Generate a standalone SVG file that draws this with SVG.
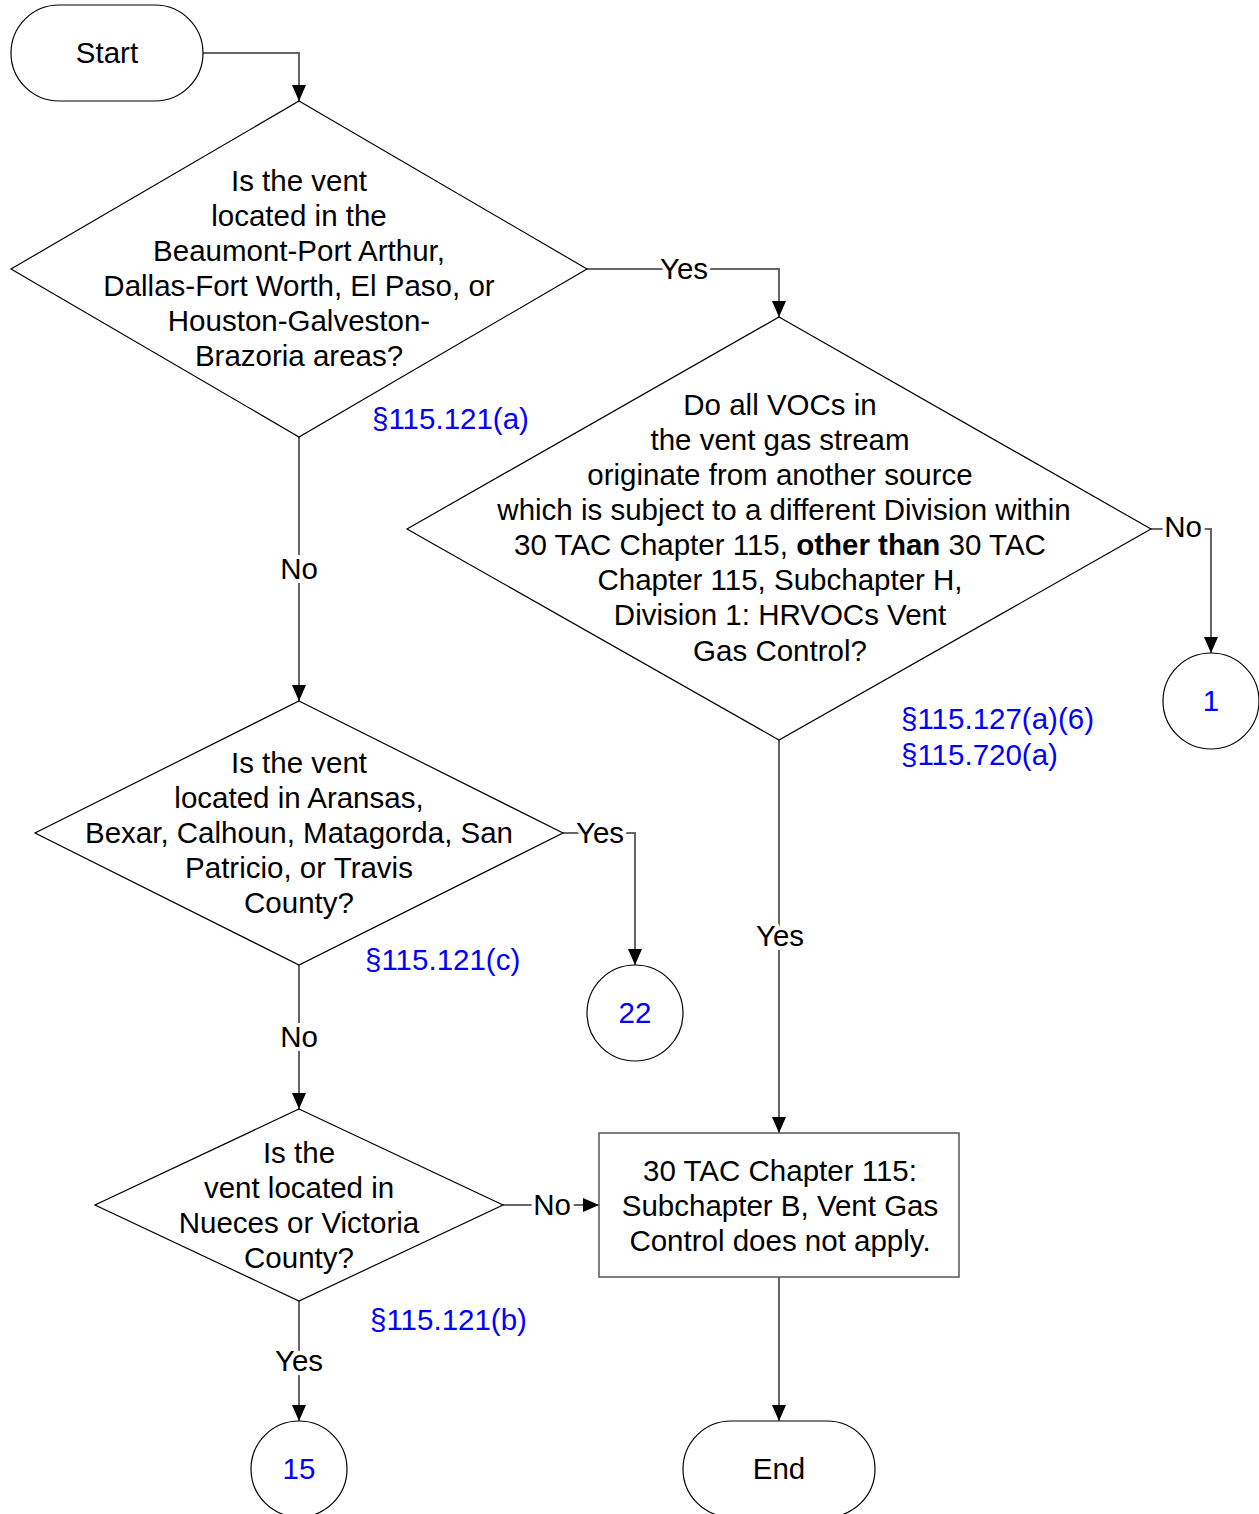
<svg xmlns="http://www.w3.org/2000/svg" width="1259" height="1514" viewBox="0 0 1259 1514">
<style>
.node{fill:#fff;stroke:#000;stroke-width:1.2}
.box{fill:#fff;stroke:#555;stroke-width:1.5}
.conn{fill:none;stroke:#666;stroke-width:2}
text{font-family:"Liberation Sans",Arial,sans-serif;font-size:29.5px;fill:#000;text-anchor:middle}
.ref{fill:#0000ff;text-anchor:start}
.num{fill:#0000ff}
.lbl{paint-order:stroke;stroke:#fff;stroke-width:8px;stroke-linejoin:round}
</style>
<defs>
<marker id="arr" markerUnits="userSpaceOnUse" markerWidth="18" markerHeight="14" refX="16" refY="7" orient="auto" viewBox="0 0 18 14">
<path d="M0,0 L16,7 L0,14 Z" fill="#000"/>
</marker>
</defs>
<rect width="1259" height="1514" fill="#fff"/>
<g id="connectors">
<path class="conn" d="M203,53 H299 V101" marker-end="url(#arr)"/>
<path class="conn" d="M587,269 H779 V317" marker-end="url(#arr)"/>
<path class="conn" d="M1151,529 H1211 V653" marker-end="url(#arr)"/>
<path class="conn" d="M299,437 V701" marker-end="url(#arr)"/>
<path class="conn" d="M563,833 H635 V965" marker-end="url(#arr)"/>
<path class="conn" d="M299,965 V1109" marker-end="url(#arr)"/>
<path class="conn" d="M503,1205 H599" marker-end="url(#arr)"/>
<path class="conn" d="M779,740 V1133" marker-end="url(#arr)"/>
<path class="conn" d="M779,1277 V1421" marker-end="url(#arr)"/>
<path class="conn" d="M299,1301 V1421" marker-end="url(#arr)"/>
<text class="lbl" x="684" y="279">Yes</text>
<text class="lbl" x="1183" y="537">No</text>
<text class="lbl" x="299" y="579">No</text>
<text class="lbl" x="600" y="843">Yes</text>
<text class="lbl" x="299" y="1047">No</text>
<text class="lbl" x="780" y="946">Yes</text>
<text class="lbl" x="552" y="1215">No</text>
<text class="lbl" x="299" y="1371">Yes</text>
</g>
<g id="start">
<rect class="node" x="11" y="5" width="192" height="96" rx="48" ry="48"/>
<text x="107" y="63">Start</text>
</g>
<g id="q1">
<polygon class="node" points="299,101 587,269 299,437 11,269"/>
<text x="299" y="191">Is the vent</text>
<text x="299" y="226">located in the</text>
<text x="299" y="261">Beaumont-Port Arthur,</text>
<text x="299" y="296">Dallas-Fort Worth, El Paso, or</text>
<text x="299" y="331">Houston-Galveston-</text>
<text x="299" y="366">Brazoria areas?</text>
<text class="ref" x="372" y="429">§115.121(a)</text>
</g>
<g id="q2">
<polygon class="node" points="779,317 1151,529 779,740 407,529"/>
<text x="780" y="415">Do all VOCs in</text>
<text x="780" y="450">the vent gas stream</text>
<text x="780" y="485">originate from another source</text>
<text x="784" y="520">which is subject to a different Division within</text>
<text x="780" y="555">30 TAC Chapter 115, <tspan font-weight="bold">other than</tspan> 30 TAC</text>
<text x="780" y="590">Chapter 115, Subchapter H,</text>
<text x="780" y="625">Division 1: HRVOCs Vent</text>
<text x="780" y="661">Gas Control?</text>
<text class="ref" x="901" y="729">§115.127(a)(6)</text>
<text class="ref" x="901" y="765">§115.720(a)</text>
</g>
<g id="c1">
<circle class="node" cx="1211" cy="701" r="48"/>
<text class="num" x="1211" y="711">1</text>
</g>
<g id="q3">
<polygon class="node" points="299,701 563,833 299,965 35,833"/>
<text x="299" y="773">Is the vent</text>
<text x="299" y="808">located in Aransas,</text>
<text x="299" y="843">Bexar, Calhoun, Matagorda, San</text>
<text x="299" y="878">Patricio, or Travis</text>
<text x="299" y="913">County?</text>
<text class="ref" x="365" y="970">§115.121(c)</text>
</g>
<g id="c22">
<circle class="node" cx="635" cy="1013" r="48"/>
<text class="num" x="635" y="1023">22</text>
</g>
<g id="q4">
<polygon class="node" points="299,1109 503,1205 299,1301 95,1205"/>
<text x="299" y="1163">Is the</text>
<text x="299" y="1198">vent located in</text>
<text x="299" y="1233">Nueces or Victoria</text>
<text x="299" y="1268">County?</text>
<text class="ref" x="370" y="1330">§115.121(b)</text>
</g>
<g id="result">
<rect class="box" x="599" y="1133" width="360" height="144"/>
<text x="780" y="1181">30 TAC Chapter 115:</text>
<text x="780" y="1216">Subchapter B, Vent Gas</text>
<text x="780" y="1251">Control does not apply.</text>
</g>
<g id="c15">
<circle class="node" cx="299" cy="1469" r="48"/>
<text class="num" x="299" y="1479">15</text>
</g>
<g id="end">
<rect class="node" x="683" y="1421" width="192" height="96" rx="48" ry="48"/>
<text x="779" y="1479">End</text>
</g>
</svg>
